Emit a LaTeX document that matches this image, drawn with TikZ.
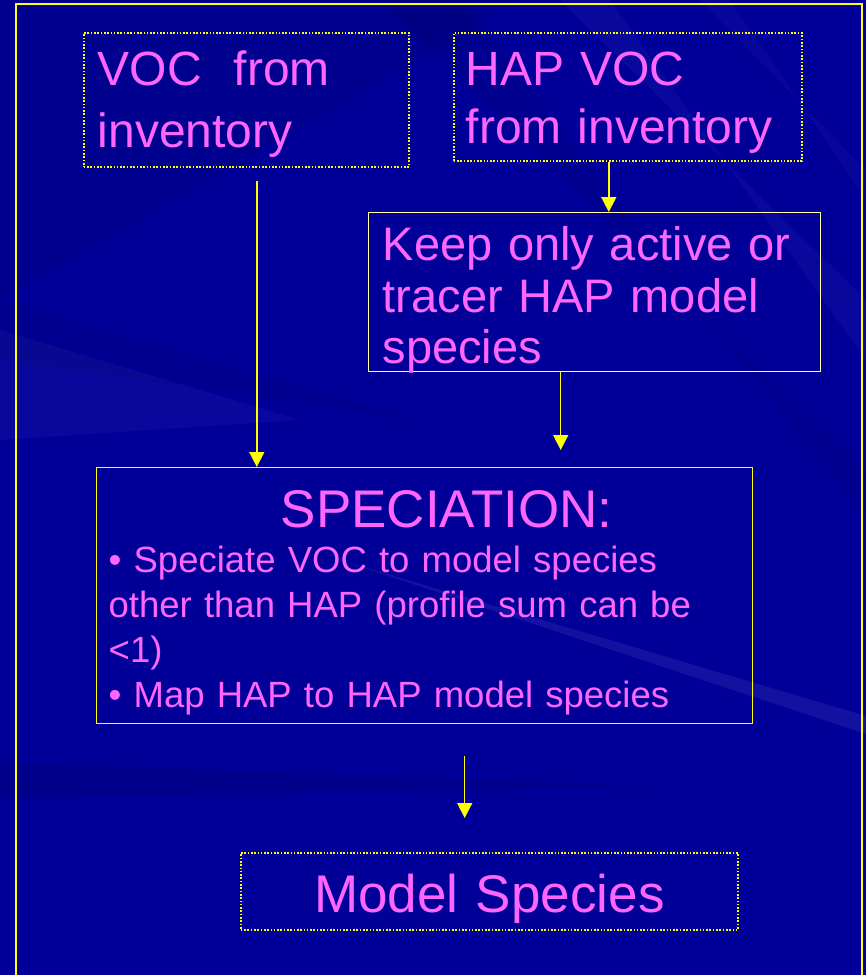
\documentclass[tikz,border=0pt]{standalone}
\usepackage{fontspec}
\setmainfont{Liberation Sans}
\usetikzlibrary{arrows.meta}

\definecolor{slideBlue}{RGB}{0,0,153}
\definecolor{slidePink}{RGB}{255,102,255}
\definecolor{slideYellow}{RGB}{255,255,0}
\definecolor{paleYellow}{RGB}{255,255,160}

\tikzset{
  % dotted and solid frames of the flow boxes
  dotbox/.style={draw=slideYellow, line width=1.6pt, dash pattern=on 1.6pt off 1.7pt,
    text=slidePink, inner ysep=0pt, align=left},
  linebox/.style={draw=slideYellow, line width=1.4pt, text=slidePink, inner ysep=0pt, align=left},
  flow/.style={slideYellow, line width=1.5pt, -{Triangle[width=15pt,length=15pt]}},
  streak/.style={white, opacity=#1},
  shade/.style={black, opacity=#1},
}

\begin{document}
\begin{tikzpicture}[x=1pt, y=-1pt]

%% slide background
\fill[slideBlue] (0,0) rectangle (866,975);
\useasboundingbox (0,0) rectangle (866,975);
\begin{scope}
  \clip (0,0) rectangle (866,975);
  \fill[shade=0.07] (0,0) -- (520,0) -- (0,300) -- cycle;
  \fill[shade=0.06] (0,300) -- (420,420) -- (0,360) -- cycle;
  \fill[streak=0.03] (0,330) -- (300,420) -- (0,440) -- cycle;
  \fill[streak=0.03] (560,0) -- (866,300) -- (866,360) -- (610,0) -- cycle;
  \fill[streak=0.025] (700,0) -- (866,170) -- (866,200) -- (730,0) -- cycle;
  \fill[shade=0.06] (380,0) -- (866,470) -- (866,520) -- (460,0) -- cycle;
  \fill[streak=0.07] (340,560) -- (866,716) -- (866,734) -- cycle;
  \fill[shade=0.09] (0,762) -- (650,786) -- (0,798) -- cycle;
\end{scope}

%% outer frame, open at the bottom
\draw[slideYellow, line width=2pt] (16,980) -- (16,4) -- (862,4) -- (862,980);

%% inputs
\node[dotbox, anchor=north west, text width=297pt, inner xsep=14pt,
  text height=53pt, text depth=81pt, font=\fontsize{48}{62}\selectfont]
  (voc) at (83,32) {VOC\ \ from\\inventory};
\node[dotbox, anchor=north west, text width=324pt, inner xsep=12pt,
  text height=53pt, text depth=75pt, font=\fontsize{48}{58}\selectfont]
  (hap) at (453,32) {HAP VOC\\from inventory};

%% HAP filter
\node[linebox, draw=paleYellow, anchor=north west, text width=424pt, inner xsep=14pt,
  text height=48pt, text depth=111pt, font=\fontsize{47}{51.5}\selectfont]
  (keep) at (368,212) {Keep only active or\\tracer HAP model\\species};

%% speciation step
\node[linebox, anchor=north west, text width=632pt, inner xsep=12pt,
  text height=60pt, text depth=196pt, font=\fontsize{36.5}{45}\selectfont]
  (spec) at (96,467) {\hspace*{172pt}{\fontsize{53}{45}\selectfont SPECIATION:}\\
    \textbullet\ Speciate VOC to model species\\
    other than HAP (profile sum can be\\
    <1)\\
    \textbullet\ Map HAP to HAP model species};

%% output
\node[dotbox, align=center, anchor=north west, text width=473pt, inner xsep=12pt,
  text height=60pt, text depth=17pt, font=\fontsize{53}{60}\selectfont]
  (model) at (240,852) {Model Species};

%% connectors
\coordinate (vocOut) at ([shift={(10.5,13)}]voc.south);
\draw[flow] (vocOut) -- (vocOut |- spec.north);

\coordinate (hapOut) at ([xshift=-19pt]hap.south);
\draw[flow] (hapOut) -- (hapOut |- keep.north);

\coordinate (keepOut) at ([xshift=-34pt]keep.south);
\coordinate (keepIn) at (keepOut |- spec.north);
\draw[flow] (keepOut) -- ([yshift=17pt]keepIn);

\coordinate (specOut) at ([shift={(40,32)}]spec.south);
\coordinate (modelIn) at (specOut |- model.north);
\draw[flow] (specOut) -- ([yshift=34pt]modelIn);

\end{tikzpicture}
\end{document}
